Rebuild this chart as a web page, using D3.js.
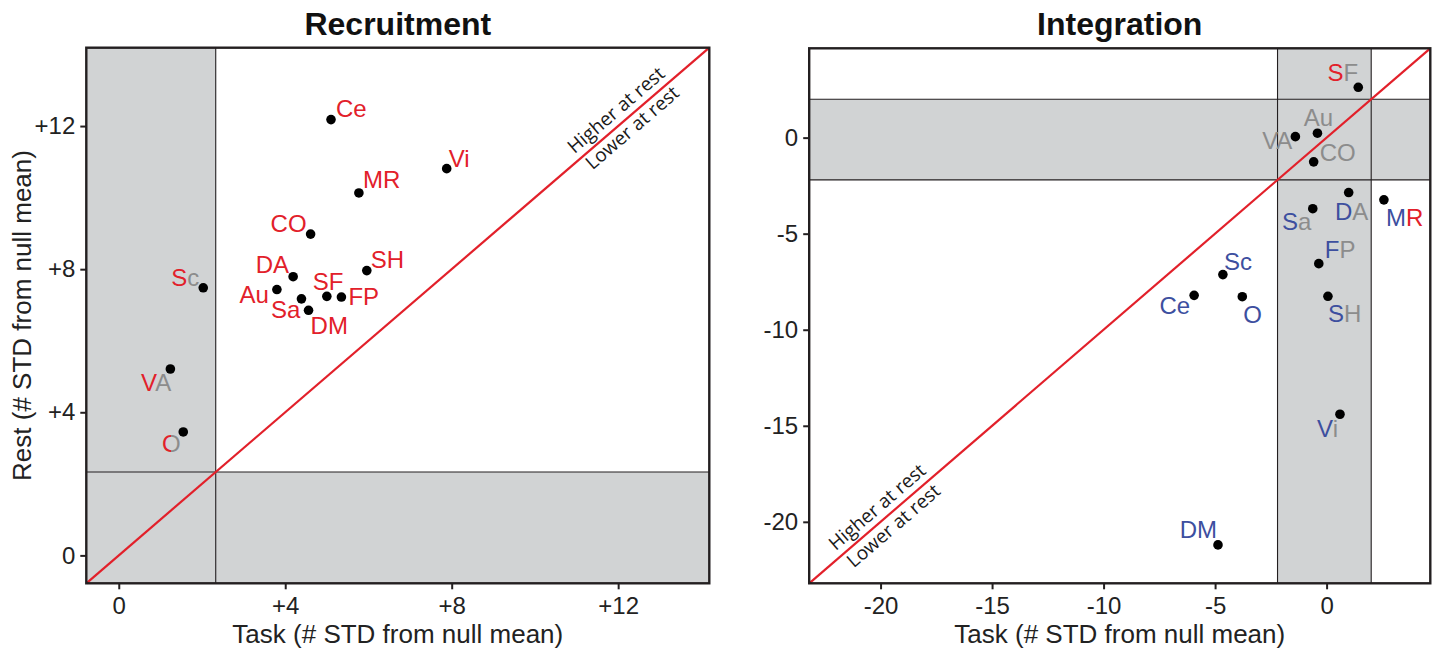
<!DOCTYPE html>
<html><head><meta charset="utf-8">
<script src="https://cdn.jsdelivr.net/npm/d3@7"></script>
<style>body{margin:0;background:#fff} text{font-family:"Liberation Sans",Arial,sans-serif}</style>
</head><body><svg id="c" width="1434" height="651"></svg>
<script>
// ---------- data ----------
const networks     = ["Ce","Vi","MR","CO","SH","DA","Sc","Au","SF","FP","Sa","DM","VA","O"];
const recruitTask  = [5.10, 7.88, 5.77, 4.61, 5.96, 4.19, 2.03, 3.80, 5.00, 5.35, 4.39, 4.56, 1.24, 1.55];
const recruitRest  = [12.18,10.81,10.13, 8.98, 7.96, 7.79, 7.48, 7.43, 7.24, 7.22, 7.17, 6.85, 5.21, 3.45];
const integTask    = [-5.94, 0.60, 2.57,-0.58, 0.06, 0.99,-4.65,-0.41, 1.42,-0.35,-0.62,-4.87,-1.40,-3.78];
const integRest    = [-8.21,-14.4,-3.24,-1.26,-8.26,-2.86,-7.13, 0.23, 2.62,-6.56,-3.70,-21.2, 0.05,-8.28];
// per-letter colour codes: r = red, g = grey, b = blue, h = half red / half grey
const recruitLetterColors = ["rr","rr","rr","rr","rr","rr","rg","rr","rr","rr","rr","rr","rg","h"];
const integLetterColors   = ["bb","bg","br","gg","bg","bg","bb","gg","rg","bg","bg","bb","gg","bb"];
const recruitTicks = [0,4,8,12];
const recruitTickLabels = ["0","+4","+8","+12"];
const integTicks = [-20,-15,-10,-5,0];
const integTickLabels = ["-20","-15","-10","-5","0"];
const recruitDomain = [-0.78, 14.19];
const integDomain = [-23.2, 4.65];
const recruitThresholds = [2.33];
const integThresholds = [-2.2, 2.0];

// ---------- layout (positions / styles) ----------
const RED = "#e2202a", GREY = "#8c8c8c", BLUE = "#3d4f9f", SHADE = "#d1d3d4", INK = "#231f20";
const colorOf = {r: RED, g: GREY, b: BLUE};
// label offsets [anchor, dx, dy] relative to each dot
const recruitLabelPos = [
  ["start",5,-3],["start",2,-2],["start",4,-5],["end",-4,-2],["start",4,-3],["end",-4,-4],
  ["end",-4,-2],["end",-8,13],["start",-14,-6],["start",7,8],["end",-1,19],["start",2,24],
  ["end",1,22],["end",-2.5,20]];
const integLabelPos = [
  ["end",-4,19],["end",-2,23],["start",2,26],["start",6,-1],["start",0,26],["middle",3,27],
  ["start",1,-5],["middle",1,-7],["end",0,-6],["start",6,-6],["end",-1.5,21],["end",-1,-7],
  ["end",-3,12],["start",1,26]];

const svg = d3.select("#c");
const defs = svg.append("defs");
const grad = defs.append("linearGradient").attr("id","halfRG")
  .attr("x1","0").attr("x2","1").attr("y1","0").attr("y2","0");
grad.append("stop").attr("offset","50%").attr("stop-color",RED);
grad.append("stop").attr("offset","50%").attr("stop-color",GREY);

function panel(opt){
  const {x0,x1,y0,y1,domain,ticks,tickLabels,task,rest,colors,labelPos,title,
         thresholds,band,diagText} = opt;
  const g = svg.append("g");
  const x = d3.scaleLinear().domain(domain).range([x0,x1]);
  const y = d3.scaleLinear().domain(domain).range([y1,y0]);

  if(band){
    const [lo,hi] = thresholds;
    g.append("rect").attr("x",x0).attr("width",x1-x0).attr("y",y(hi)).attr("height",y(lo)-y(hi)).attr("fill",SHADE);
    g.append("rect").attr("x",x(lo)).attr("width",x(hi)-x(lo)).attr("y",y0).attr("height",y1-y0).attr("fill",SHADE);
  } else {
    const t = thresholds[0];
    g.append("rect").attr("x",x0).attr("width",x(t)-x0).attr("y",y0).attr("height",y1-y0).attr("fill",SHADE);
    g.append("rect").attr("x",x0).attr("width",x1-x0).attr("y",y(t)).attr("height",y1-y(t)).attr("fill",SHADE);
  }
  thresholds.forEach(t=>{
    g.append("line").attr("x1",x(t)).attr("x2",x(t)).attr("y1",y0).attr("y2",y1).attr("stroke",INK).attr("stroke-width",1.1);
    g.append("line").attr("x1",x0).attr("x2",x1).attr("y1",y(t)).attr("y2",y(t)).attr("stroke",INK).attr("stroke-width",1.1);
  });
  g.append("line").attr("x1",x(domain[0])).attr("y1",y(domain[0])).attr("x2",x(domain[1])).attr("y2",y(domain[1]))
    .attr("stroke",RED).attr("stroke-width",2.2);
  const ang = Math.atan2(y1-y0,x1-x0)*180/Math.PI;
  diagText.forEach(d=>{
    const px = x0 + (x1-x0)*d.f, py = y1 - (y1-y0)*d.f;
    g.append("text").attr("transform",`translate(${px},${py}) rotate(${-ang})`)
      .attr("y",d.perp).attr("text-anchor",d.anchor)
      .style("font-family","'Open Sans',sans-serif").style("font-size","19px").attr("fill","#1a1a1a")
      .text(d.text);
  });
  g.append("rect").attr("x",x0).attr("y",y0).attr("width",x1-x0).attr("height",y1-y0)
    .attr("fill","none").attr("stroke",INK).attr("stroke-width",2.4);
  const ax = g.append("g").attr("transform",`translate(0,${y1})`)
    .call(d3.axisBottom(x).tickValues(ticks).tickFormat((d,i)=>tickLabels[i]).tickSize(6).tickPadding(8));
  const ay = g.append("g").attr("transform",`translate(${x0},0)`)
    .call(d3.axisLeft(y).tickValues(ticks).tickFormat((d,i)=>tickLabels[i]).tickSize(6).tickPadding(5));
  [ax,ay].forEach(a=>{
    a.select(".domain").remove();
    a.selectAll(".tick line").attr("stroke",INK).attr("stroke-width",2);
    a.selectAll(".tick text").attr("fill","#222").style("font-size","24px").style("font-family","'Liberation Sans',Arial,sans-serif");
  });
  g.append("text").attr("x",(x0+x1)/2).attr("y",35).attr("text-anchor","middle")
    .style("font-size","32px").style("font-weight","bold").attr("fill","#111").text(title);
  g.append("text").attr("x",(x0+x1)/2).attr("y",643).attr("text-anchor","middle")
    .style("font-size","26px").attr("fill","#222").text("Task (# STD from null mean)");
  const pts = networks.map((n,i)=>({n,tx:task[i],ry:rest[i],c:colors[i],p:labelPos[i]}));
  g.selectAll("circle.pt").data(pts).join("circle").attr("class","pt")
    .attr("cx",d=>x(d.tx)).attr("cy",d=>y(d.ry)).attr("r",4.8).attr("fill","#000");
  pts.forEach(d=>{
    const t = g.append("text").attr("x",x(d.tx)+d.p[1]).attr("y",y(d.ry)+d.p[2])
      .attr("text-anchor",d.p[0]).style("font-size","24px");
    if(d.c==="h"){ t.attr("fill","url(#halfRG)").text(d.n); }
    else d.n.split("").forEach((ch,k)=> t.append("tspan").attr("fill",colorOf[d.c[k]]).text(ch));
  });
  return g;
}

panel({x0:86.3,x1:709.3,y0:47.7,y1:583.3,domain:recruitDomain,ticks:recruitTicks,tickLabels:recruitTickLabels,
  task:recruitTask,rest:recruitRest,colors:recruitLetterColors,labelPos:recruitLabelPos,title:"Recruitment",
  thresholds:recruitThresholds,band:false,
  diagText:[{text:"Higher at rest",f:0.938,perp:-7,anchor:"end"},{text:"Lower at rest",f:0.936,perp:17,anchor:"end"}]});
panel({x0:809.2,x1:1430.3,y0:48.3,y1:583.3,domain:integDomain,ticks:integTicks,tickLabels:integTickLabels,
  task:integTask,rest:integRest,colors:integLetterColors,labelPos:integLabelPos,title:"Integration",
  thresholds:integThresholds,band:true,
  diagText:[{text:"Higher at rest",f:0.05,perp:-7,anchor:"start"},{text:"Lower at rest",f:0.053,perp:18,anchor:"start"}]});

svg.append("text").attr("transform","translate(31,315.5) rotate(-90)").attr("text-anchor","middle")
  .style("font-size","26px").attr("fill","#222").text("Rest (# STD from null mean)");
</script></body></html>
